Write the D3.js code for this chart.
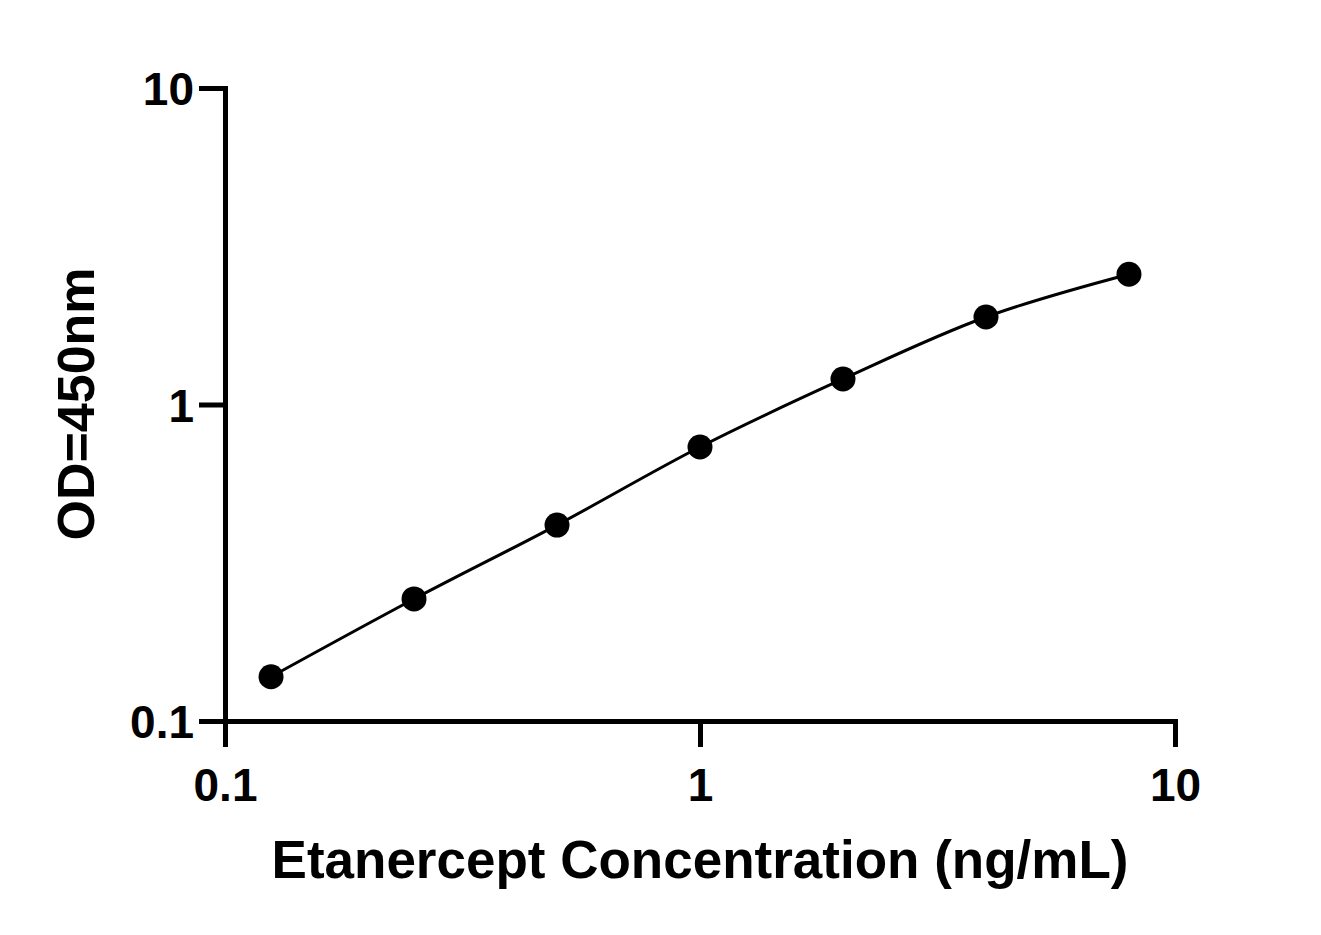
<!DOCTYPE html>
<html><head><meta charset="utf-8">
<script src="https://cdn.jsdelivr.net/npm/d3@7"></script>
<style>body{margin:0;background:#fff}svg{display:block}</style>
</head><body>
<script>
const concentrations = [0.125, 0.25, 0.5, 1, 2, 4, 8];
const odValues = [0.138, 0.243, 0.416, 0.734, 1.204, 1.89, 2.58];
const xTicks = [0.1, 1, 10];
const yTicks = [0.1, 1, 10];
const xTitle = "Etanercept Concentration (ng/mL)";
const yTitle = "OD=450nm";

const W = 1321, H = 935;
const svg = d3.select("body").append("svg").attr("width", W).attr("height", H);
const x = d3.scaleLog().domain([0.1, 10]).range([225, 1175]);
const y = d3.scaleLog().domain([0.1, 10]).range([721, 88]);
const font = "'Liberation Sans', Arial, sans-serif";

const xAxis = svg.append("g").attr("transform", "translate(0,721)")
  .call(d3.axisBottom(x).tickValues(xTicks).tickFormat(d => String(d)).tickSize(26).tickSizeOuter(0));
const yAxis = svg.append("g").attr("transform", "translate(225,0)")
  .call(d3.axisLeft(y).tickValues(yTicks).tickFormat(d => String(d)).tickSize(26).tickSizeOuter(0));
[xAxis, yAxis].forEach(g => {
  g.select(".domain").attr("stroke", "#000").attr("stroke-width", 5).attr("stroke-linecap", "square");
  g.selectAll(".tick line").attr("stroke", "#000").attr("stroke-width", 5);
  g.selectAll(".tick text").attr("fill", "#000").style("font-family", font)
    .style("font-weight", "bold").style("font-size", "46px");
});
xAxis.selectAll(".tick text").attr("dy", "0.71em").attr("y", 47);
yAxis.selectAll(".tick text").attr("x", -31).attr("dy", "0.36em");

const pts = concentrations.map((c, i) => [x(c), y(odValues[i])]);
svg.append("path").attr("d", d3.line().curve(d3.curveCatmullRom.alpha(0.5))(pts))
  .attr("fill", "none").attr("stroke", "#000").attr("stroke-width", 3);
svg.selectAll("circle.pt").data(concentrations).enter().append("circle")
  .attr("cx", d => x(d)).attr("cy", (d, i) => y(odValues[i])).attr("r", 12.5).attr("fill", "#000");

svg.append("text").attr("x", 700).attr("y", 878).attr("text-anchor", "middle")
  .style("font-family", font).style("font-weight", "bold").style("font-size", "53px").text(xTitle);
svg.append("text").attr("transform", "translate(94,404) rotate(-90)").attr("text-anchor", "middle")
  .style("font-family", font).style("font-weight", "bold").style("font-size", "52px").text(yTitle);
</script>
</body></html>
